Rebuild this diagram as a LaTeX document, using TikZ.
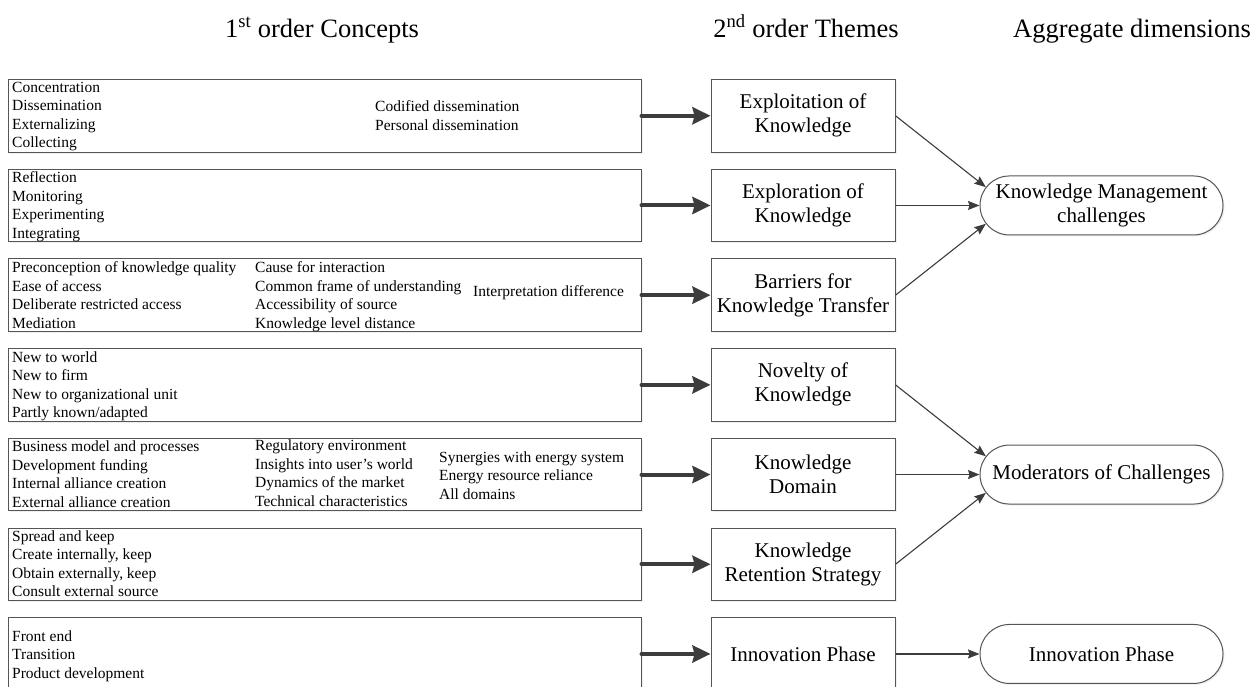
\documentclass[tikz,border=0pt]{standalone}
\usepackage{fontspec}
\setmainfont{Liberation Serif}
\usetikzlibrary{arrows.meta,shapes.misc,calc,shadows}

\definecolor{edge}{HTML}{555555}
\definecolor{arrowc}{HTML}{3C3C3C}

\tikzset{
  softshadow/.style={drop shadow={shadow xshift=1.5pt, shadow yshift=-1.5pt, opacity=0.13}},
  conceptbox/.style={draw=edge, line width=1pt, fill=white, softshadow,
    minimum width=633pt, minimum height=72.5pt, inner sep=0pt},
  themebox/.style={draw=edge, line width=1pt, fill=white, softshadow,
    minimum width=184pt, minimum height=72.5pt, inner sep=0pt,
    align=center, font=\fontsize{21}{24}\selectfont},
  dimbox/.style={rounded rectangle, draw=edge, line width=1pt, fill=white, softshadow,
    minimum width=243pt, minimum height=59pt, inner sep=0pt,
    align=center, font=\fontsize{21}{24}\selectfont},
  items/.style={anchor=north west, inner sep=0pt, align=left,
    font=\fontsize{15.5}{18.5}\selectfont, execute at begin node=\strut},
  heading/.style={anchor=base, inner sep=0pt, font=\fontsize{26.5}{30}\selectfont},
  feed/.style={draw=arrowc, line width=4pt, line cap=round,
    -{Stealth[length=18pt,width=17pt,inset=2pt]}},
  link/.style={draw=arrowc, line width=1.1pt,
    -{Stealth[length=11.5pt,width=9pt,inset=1.5pt]}},
}

\begin{document}
\begin{tikzpicture}[x=1pt, y=-1pt]
\useasboundingbox (0,0) rectangle (1255,686);

% column headings
\node[heading] (h1) at (322,37) {1\textsuperscript{st} order Concepts};
\node[heading] (h2) at (806,37) {2\textsuperscript{nd} order Themes};
\node[heading] (h3) at (1132,37) {Aggregate dimensions};

% first-order concept boxes (row tops: 79.5 + 89.7 k)
\node[conceptbox] (c1) at (324.5,115.75) {};
\node[conceptbox] (c2) at (324.5,205.45) {};
\node[conceptbox] (c3) at (324.5,295.15) {};
\node[conceptbox] (c4) at (324.5,384.85) {};
\node[conceptbox] (c5) at (324.5,474.55) {};
\node[conceptbox] (c6) at (324.5,564.25) {};
\node[conceptbox] (c7) at (324.5,653.95) {};

% concept lists
\node[items] (c1a) at (12,82) {Concentration\\Dissemination\\Externalizing\\Collecting};
\node[items] (c1b) at (375,100.8) {Codified dissemination\\Personal dissemination};

\node[items] (c2a) at (12,171.7) {Reflection\\Monitoring\\Experimenting\\Integrating};

\node[items] (c3a) at (12,261.4) {Preconception of knowledge quality\\Ease of access\\Deliberate restricted access\\Mediation};
\node[items] (c3b) at (255,261.4) {Cause for interaction\\Common frame of understanding\\Accessibility of source\\Knowledge level distance};
\node[items] (c3c) at (473,283.4) {Interpretation difference};

\node[items] (c4a) at (12,351.1) {New to world\\New to firm\\New to organizational unit\\Partly known/adapted};

\node[items] (c5a) at (12,440.8) {Business model and processes\\Development funding\\Internal alliance creation\\External alliance creation};
\node[items] (c5b) at (255,439.8) {Regulatory environment\\Insights into user’s world\\Dynamics of the market\\Technical characteristics};
\node[items] (c5c) at (439,451.3) {Synergies with energy system\\Energy resource reliance\\All domains};

\node[items] (c6a) at (12,530.5) {Spread and keep\\Create internally, keep\\Obtain externally, keep\\Consult external source};

\node[items] (c7a) at (12,630.5) {Front end\\Transition\\Product development};

% second-order themes
\node[themebox] (t1) at (803,115.75) {Exploitation of\\Knowledge};
\node[themebox] (t2) at (803,205.45) {Exploration of\\Knowledge};
\node[themebox] (t3) at (803,295.15) {Barriers for\\Knowledge Transfer};
\node[themebox] (t4) at (803,384.85) {Novelty of\\Knowledge};
\node[themebox] (t5) at (803,474.55) {Knowledge\\Domain};
\node[themebox] (t6) at (803,564.25) {Knowledge\\Retention Strategy};
\node[themebox] (t7) at (803,653.95) {Innovation Phase};

% aggregate dimensions
\node[dimbox] (km) at (1101.5,205.45) {Knowledge Management\\challenges};
\node[dimbox] (mod) at (1101.5,474.55) {Moderators of Challenges};
\node[dimbox] (ip) at (1101.5,653.95) {Innovation Phase};

% centres of the left end arcs
\coordinate (kmc) at ($(km.west)+(29.5,0)$);
\coordinate (modc) at ($(mod.west)+(29.5,0)$);

% concepts feed the themes
\foreach \i in {1,...,7}
  \draw[feed] (c\i.east) -- (t\i.west);

% themes roll up into dimensions
\draw[link, shorten >=29.5pt] (t1.east) -- (kmc);
\draw[link] (t2.east) -- (km.west);
\draw[link, shorten >=29.5pt] (t3.east) -- (kmc);

\draw[link, shorten >=29.5pt] (t4.east) -- (modc);
\draw[link] (t5.east) -- (mod.west);
\draw[link, shorten >=29.5pt] (t6.east) -- (modc);

\draw[link] (t7.east) -- (ip.west);
\end{tikzpicture}
\end{document}
